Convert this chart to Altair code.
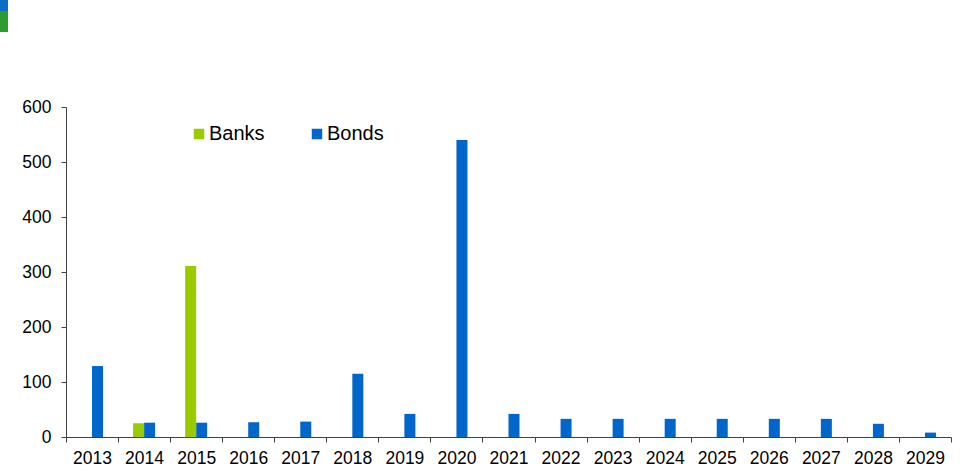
import altair as alt
import pandas as pd

years = [str(y) for y in range(2013, 2030)]
bonds = [129, 26, 26, 27, 28, 115, 42, 540, 42, 33, 33, 33, 33, 33, 33, 24, 8]
bank_years = ["2014", "2015"]
banks = [25, 311]
series = ["Banks", "Bonds"]
colors = ["#99CC00", "#0066CC"]

rows = [{"year": y, "series": "Bonds", "value": v} for y, v in zip(years, bonds)]
rows += [{"year": y, "series": "Banks", "value": v} for y, v in zip(bank_years, banks)]
df = pd.DataFrame(rows)

W, H = 885, 330
FONT = "Liberation Sans"
offset_domain = ["_padL", "Banks", "Bonds", "_padR"]

bars = alt.Chart(df).mark_bar().encode(
    x=alt.X("year:N", sort=years, scale=alt.Scale(domain=years, paddingInner=0, paddingOuter=0),
            axis=alt.Axis(title=None, labelAngle=0, tickBand="extent", tickSize=5,
                          labelFontSize=17.5, labelFont=FONT, labelColor="#000000",
                          domainColor="#404040", tickColor="#404040", labelPadding=7)),
    xOffset=alt.XOffset("series:N", scale=alt.Scale(domain=offset_domain, paddingInner=0, paddingOuter=0.366)),
    y=alt.Y("value:Q", scale=alt.Scale(domain=[0, 600], nice=False),
            axis=alt.Axis(title=None, values=[0, 100, 200, 300, 400, 500, 600], grid=False,
                          tickSize=5, labelFontSize=17.5, labelFont=FONT, labelColor="#000000",
                          domainColor="#404040", tickColor="#404040", labelPadding=10)),
    color=alt.Color("series:N", scale=alt.Scale(domain=series, range=colors),
                    legend=alt.Legend(title=None, orient="none", legendX=123, legendY=17,
                                      direction="horizontal", symbolType="square", symbolSize=110,
                                      symbolStrokeWidth=0, labelFontSize=20, labelFont=FONT,
                                      labelColor="#000000", labelOffset=0, columnPadding=42,
                                      padding=0)),
)

logo_df = pd.DataFrame({"part": ["top", "bottom"], "c": ["#0A6FC2", "#2E9B2E"]})
logo_top = alt.Chart(logo_df[logo_df.part == "top"]).mark_rect(color="#0A6FC2").encode(
    x=alt.value(-66), x2=alt.value(-58), y=alt.value(-107), y2=alt.value(-96))
logo_bot = alt.Chart(logo_df[logo_df.part == "bottom"]).mark_rect(color="#2E9B2E").encode(
    x=alt.value(-66), x2=alt.value(-58), y=alt.value(-96), y2=alt.value(-75))

chart = alt.layer(bars, logo_top, logo_bot).properties(
    width=W, height=H,
    padding={"left": 66, "top": 107, "right": 13, "bottom": 32},
    autosize=alt.AutoSizeParams(type="none"),
).configure(font=FONT, background="white").configure_view(strokeWidth=0, stroke=None)

chart.save("out.html", embed_options={"renderer": "svg", "actions": False})
